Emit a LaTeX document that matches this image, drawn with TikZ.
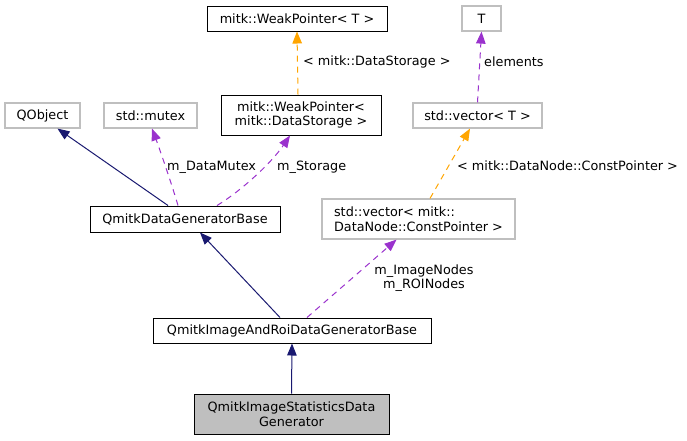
\documentclass[tikz,border=0pt]{standalone}
\usepackage{fontspec}
\setmainfont{DejaVu Sans}
\usetikzlibrary{arrows.meta}

\definecolor{inhblue}{HTML}{191970}
\definecolor{usepurple}{HTML}{9A32CD}
\definecolor{tmplorange}{HTML}{FFA500}
\definecolor{extgrey}{HTML}{BFBFBF}

\begin{document}
\begin{tikzpicture}[x=1pt, y=-1pt,
  cls/.style={draw=black, line width=1pt, align=center, inner sep=2pt, font=\fontsize{12.8}{14.5}\selectfont},
  ext/.style={cls, draw=extgrey, line width=1.2pt},
  lbl/.style={inner sep=0pt, align=center, font=\fontsize{12.8}{14.5}\selectfont},
  inh/.style={-{Triangle[length=12pt,width=9.5pt]}, inhblue, line width=1pt},
  use/.style={-{Triangle[length=12pt,width=9.5pt]}, usepurple, line width=1pt, dash pattern=on 6pt off 5pt},
  tmpl/.style={-{Triangle[length=12pt,width=9.5pt]}, tmplorange, line width=1pt, dash pattern=on 6pt off 5pt}
]
\useasboundingbox (0,0) rectangle (687,440);

\node[cls, minimum width=180pt, minimum height=25pt] (wpT) at (297,18.5) {mitk::WeakPointer< T >};
\node[cls, minimum width=160pt, minimum height=40pt] (wpDS) at (301,115) {mitk::WeakPointer<\\mitk::DataStorage >};
\node[ext, minimum width=75pt, minimum height=25pt] (qobj) at (42.5,115.5) {QObject};
\node[ext, minimum width=93pt, minimum height=25pt] (mutex) at (150.5,115.5) {std::mutex};
\node[ext, minimum width=39pt, minimum height=25pt] (tT) at (481.5,18.5) {T};
\node[ext, minimum width=129pt, minimum height=25pt] (vecT) at (477.5,115.5) {std::vector< T >};
\node[ext, align=left, minimum width=193pt, minimum height=40pt] (vecDN) at (418.5,219) {std::vector< mitk::\\DataNode::ConstPointer >};
\node[cls, minimum width=190pt, minimum height=26pt] (qdgb) at (185,219) {QmitkDataGeneratorBase};
\node[cls, minimum width=278pt, minimum height=25pt] (qiard) at (292,330.5) {QmitkImageAndRoiDataGeneratorBase};
\node[cls, fill=extgrey, minimum width=195pt, minimum height=40pt] (qisdg) at (291.5,414) {QmitkImageStatisticsData\\Generator};

% edge labels
\node[lbl, anchor=west] (lmutex) at (167,167) {m\_DataMutex};
\node[lbl, anchor=west] (lstorage) at (277,167) {m\_Storage};
\node[lbl, anchor=west] (lds) at (303,62) {< mitk::DataStorage >};
\node[lbl, anchor=west] (lelem) at (484,62) {elements};
\node[lbl, anchor=west] (lcp) at (457,166) {< mitk::DataNode::ConstPointer >};
\node[lbl] (lnodes) at (424,278) {m\_ImageNodes\\m\_ROINodes};

\draw[inh] ([xshift=-17pt]qdgb.north) -- ([xshift=15pt]qobj.south);
\draw[use] ([xshift=-7pt]qdgb.north) .. controls (172,185) and (160,150) .. ([xshift=1.5pt]mutex.south);
\draw[use] ([xshift=32pt]qdgb.north) .. controls (238,193) and (270,165) .. ([xshift=-11pt]wpDS.south);
\draw[tmpl] ([xshift=-3pt]wpDS.north) -- (wpT.south);
\draw[use] (vecT.north) -- (tT.south);
\draw[tmpl] ([xshift=11.5pt]vecDN.north) -- ([xshift=-7.5pt]vecT.south);
\draw[use] ([xshift=15pt]qiard.north) -- ([xshift=-22pt]vecDN.south);
\draw[inh] ([xshift=-12pt]qiard.north) -- ([xshift=15pt]qdgb.south);
\draw[inh] (qisdg.north) -- (qiard.south);

\end{tikzpicture}
\end{document}
